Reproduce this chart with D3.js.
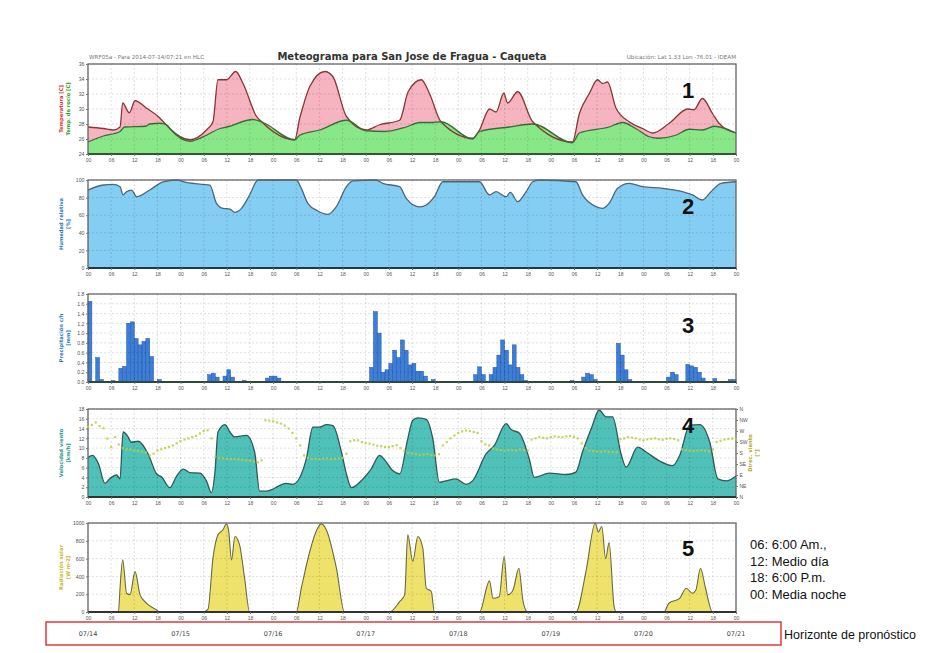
<!DOCTYPE html>
<html><head><meta charset="utf-8">
<script src="https://cdn.jsdelivr.net/npm/d3@7"></script>
<style>body{margin:0;background:#fff;} svg{display:block;font-family:"DejaVu Sans",sans-serif;}</style>
</head><body><svg id="c" width="938" height="653"></svg>
<script>
// ---------- DATA (hour since 07/14 00:00, value) ----------
const dateLabels = ["07/14","07/15","07/16","07/17","07/18","07/19","07/20","07/21"];
const hourLabels = ["00","06","12","18"];
const tempTicks = [24,26,28,30,32,34,36];
const humTicks = [0,20,40,60,80,100];
const precTicks = [0,0.2,0.4,0.6,0.8,1.0,1.2,1.4,1.6,1.8];
const windTicks = [0,2,4,6,8,10,12,14,16,18];
const dirTicks = [0,45,90,135,180,225,270,315,360];
const dirNames = ["N","NE","E","SE","S","SW","W","NW","N"];
const radTicks = [0,200,400,600,800,1000];

const temperatura = [[0,27.6],[4,27.4],[6.6,27.2],[8.3,27.6],[9,30.8],[10.7,29.5],[12.2,31.1],[15.2,30.1],[18.6,28.8],[19.9,28.1],[21.2,27.4],[26.4,25.9],[30.7,27.2],[32.4,28.3],[33.7,33.9],[35.9,33.9],[38.3,35.0],[40.2,33.4],[43.7,29.0],[45,28.3],[53.6,25.9],[54.9,28.8],[55.5,29.9],[57.5,33.0],[61.4,35.0],[63.5,34.3],[67,29.0],[72.1,27.2],[75.6,27.9],[80.8,28.5],[83,32.3],[86.4,33.9],[88.5,32.1],[91.5,28.3],[99.7,26.1],[101.5,27.2],[104.1,30.0],[105.8,29.6],[107.8,32.1],[108.8,30.8],[111.4,32.3],[115.3,28.3],[125.6,25.6],[127.4,29.4],[130,32.1],[132.1,33.9],[133.4,33.4],[134.7,33.6],[136.9,30.1],[140.3,28.3],[143.8,27.4],[146.4,26.8],[150.7,28.1],[155.5,30.0],[157.1,29.9],[159.3,31.4],[161.9,29.4],[163.6,28.1],[168,26.8]];
const rocio = [[0,25.6],[4,26.4],[6.6,26.7],[8.3,27.0],[9.5,27.6],[15,27.7],[16,28.0],[18.6,28.1],[20.4,27.9],[21.2,27.4],[26.4,25.7],[30.7,26.5],[34.2,27.4],[36,27.6],[42.8,28.6],[45,28.3],[53.6,25.9],[54.9,26.5],[60.1,27.2],[67,28.5],[72.1,27.1],[77,27.0],[82.5,27.6],[86,28.2],[89.3,28.2],[91.5,28.3],[99.7,26.0],[101.5,27.0],[109.2,27.6],[115.3,28.0],[125.6,25.5],[127.4,26.8],[135.1,27.6],[138.6,28.2],[142,27.4],[145.5,26.3],[148,26.1],[152.4,26.5],[155.9,27.3],[159.3,27.2],[162.4,27.7],[168,26.8]];
const humedad = [[0,88.6],[4,94.3],[6.5,95],[8.3,92.4],[9.1,83],[10,86.7],[11.3,88.6],[12.6,81],[16,88.6],[19.5,98],[23,100],[25.5,97.3],[29.8,95],[31.6,94.3],[33.3,73.5],[35,67.8],[36.8,67],[38,63.3],[39.8,67.8],[41.9,83],[44.1,100],[54,100],[55.3,90.5],[57,73.5],[59.6,64.8],[62.2,61],[64.4,69.7],[67,92.4],[68.7,98.9],[74.7,100],[76.4,96.2],[80.8,92.4],[82.5,79.2],[86,69.5],[87.7,71.6],[89.8,81],[92,98],[101.5,98],[104.1,83],[105.8,86.7],[108.4,81],[109.5,86],[111.4,75.4],[113.6,86.7],[115.3,98],[117,100],[126.5,98],[128.2,83],[131.7,69.7],[133.4,67.8],[135.1,73.5],[137.3,90.5],[140.3,96.2],[143.8,92.4],[149,90.5],[154.1,86.7],[156.7,83],[159.3,77.3],[161.5,86.7],[164.1,96.2],[168,98]];
const precipitacion = [[0,1.65],[2,0.5],[3,0.05],[6,0.03],[8,0.28],[9,0.32],[10,1.2],[11,1.23],[12,0.89],[13,0.76],[14,0.83],[15,0.89],[16,0.52],[18,0.05],[31,0.15],[32,0.18],[33,0.1],[35,0.12],[36,0.25],[37,0.1],[40,0.03],[46,0.08],[47,0.12],[48,0.12],[49,0.08],[73,0.3],[74,1.44],[75,1.0],[76,0.2],[77,0.25],[78,0.38],[79,0.65],[80,0.5],[81,0.86],[82,0.65],[83,0.35],[84,0.38],[85,0.22],[86,0.22],[87,0.12],[89,0.05],[100,0.15],[101,0.31],[102,0.15],[104,0.15],[105,0.3],[106,0.55],[107,0.86],[108,0.65],[109,0.35],[110,0.76],[111,0.3],[112,0.15],[113,0.03],[125,0.03],[128,0.1],[129,0.18],[130,0.15],[131,0.05],[137,0.79],[138,0.55],[139,0.25],[140,0.05],[150,0.1],[151,0.2],[152,0.15],[155,0.36],[156,0.33],[157,0.3],[158,0.2],[159,0.08],[162,0.07],[166,0.05],[167,0.05]];
const viento = [[0,8.1],[1.2,8.5],[2.7,6.8],[4.4,2.8],[5.7,3.8],[7.4,4.5],[8.3,3.7],[9.1,13.3],[10.4,12.3],[11.2,11.2],[13,11.4],[15.6,8.8],[17.8,4.7],[19.1,4.1],[21.2,1.9],[23,4.3],[24.7,5.7],[26.4,5.0],[29,4.9],[30.7,3.3],[32,0.9],[32.9,4.9],[33.7,13.3],[35.5,14.8],[36.8,13.3],[38,12.3],[41.1,12.6],[43.2,9.2],[44.5,1.2],[46.2,1.2],[51.4,2.8],[53.1,2.6],[56.6,7.8],[58.3,14.3],[60.1,14.3],[61.8,14.8],[63.5,14.6],[65.7,9.2],[67,4.7],[68.3,1.9],[71.3,3.7],[73.4,5.7],[75.6,8.5],[76.9,7.6],[79,5.4],[80.8,4.7],[82.9,11.9],[84.2,15.7],[85.5,16.2],[87.7,15.9],[89.4,11.9],[91.1,3.0],[92.8,3.3],[95.4,3.7],[98,2.6],[99.7,3.3],[103.2,8.8],[105.4,10.6],[108.4,15],[109.7,13.8],[111.8,13.1],[114.4,7.8],[115.7,4.0],[119.6,4.9],[124,4.6],[126.5,5.1],[128.2,9.2],[130.8,14.7],[132.5,17.8],[134.3,16.4],[136,16.4],[138.2,8.8],[139.5,6.1],[142.5,10.2],[144.7,9.2],[148.1,7.4],[151.6,6.4],[153.4,8.5],[156,14.7],[158.6,14.8],[161.2,11.2],[163.3,3.7],[165.5,3.3],[168,4.3]];
// hourly wind direction (degrees), hours 0..168
const direccion = [287,295,305,290,281,239,204,245,215,200,195,195,190,188,185,182,170,177,190,195,200,205,211,220,228,235,240,245,250,260,270,273,240,165,160,158,157,155,156,154,152,150,148,145,142,150,314,312,310,305,300,292,280,262,240,211,170,160,156,157,155,156,158,155,156,157,160,177,228,232,232,225,220,218,214,210,208,205,204,208,212,200,190,180,178,175,172,174,176,172,170,175,211,225,240,252,262,268,272,270,266,262,228,215,211,198,195,192,190,193,192,190,195,192,190,235,240,245,242,240,245,248,246,245,248,250,246,240,219,200,190,188,186,185,187,185,184,183,236,240,245,243,240,235,232,236,238,240,236,234,238,240,237,232,195,192,190,188,190,192,190,188,195,225,230,235,238,239,236];
const radiacion = [[0,0],[7.9,0],[8.3,267],[9,586],[10,211],[10.9,195],[12.2,454],[13.5,192],[15.2,98],[17.8,22],[18.6,0],[29.8,0],[31.1,30],[32.4,605],[33.7,868],[35,924],[35.9,990],[36.5,901],[37.2,586],[38.1,849],[39.3,755],[40.6,380],[41.9,0],[54,0],[55.3,267],[57.5,680],[59.3,921],[60.5,990],[61.8,921],[64.4,492],[66.5,0],[78.2,0],[80.8,117],[82.1,192],[82.9,868],[84.2,567],[85.5,849],[86.8,718],[87.7,267],[89,230],[89.8,0],[101.5,0],[104.1,350],[105,154],[106.6,172],[107.9,624],[108.8,192],[110.2,248],[111.7,492],[112.8,117],[114,0],[126.5,0],[129.1,454],[131.5,1000],[132.3,900],[133.2,960],[134.2,600],[135.1,780],[136.4,60],[137,0],[149.3,0],[150.6,98],[153.4,154],[155.1,267],[156.7,211],[157.6,248],[158.8,492],[160.1,267],[161.9,0],[168,0]];

// ---------- LAYOUT ----------
const svg = d3.select("#c");
svg.append("rect").attr("width",938).attr("height",653).attr("fill","#fff");
const x = d3.scaleLinear().domain([0,168]).range([88,736]);
const x0 = 88, x1 = 736;
const sixH = d3.range(0,169,6);
const curve = d3.curveMonotoneX;

function panel(top, bottom, domain, ticks, fmt, title, baseColor){
  const y = d3.scaleLinear().domain(domain).range([bottom, top]);
  const g = svg.append("g");
  g.append("rect").attr("x",x0).attr("y",top).attr("width",x1-x0).attr("height",bottom-top).attr("fill","#fff");
  const data = g.append("g");
  const grid = g.append("g");
  const over = g.append("g");
  grid.selectAll("line.h").data(ticks).join("line")
    .attr("x1",x0).attr("x2",x1).attr("y1",d=>y(d)).attr("y2",d=>y(d))
    .attr("stroke","rgba(0,0,0,0.18)").attr("stroke-dasharray","2,2").attr("stroke-width",0.7);
  grid.selectAll("line.v").data(sixH).join("line")
    .attr("x1",d=>x(d)).attr("x2",d=>x(d)).attr("y1",top).attr("y2",bottom)
    .attr("stroke","rgba(0,0,0,0.18)").attr("stroke-dasharray","2,2").attr("stroke-width",0.7);
  over.append("rect").attr("x",x0).attr("y",top).attr("width",x1-x0).attr("height",bottom-top)
    .attr("fill","none").attr("stroke","#666").attr("stroke-width",1.3);
  over.append("line").attr("x1",x0).attr("x2",x1).attr("y1",bottom).attr("y2",bottom)
    .attr("stroke",baseColor).attr("stroke-width",2.2);
  const ax = over.append("g").attr("transform",`translate(${x0},0)`)
    .call(d3.axisLeft(y).tickValues(ticks).tickFormat(fmt).tickSize(2).tickPadding(1.5));
  ax.select(".domain").remove();
  ax.selectAll("text").attr("font-size",5.2).attr("fill","#555");
  ax.selectAll("line").attr("stroke","#777");
  const bx = over.append("g").attr("transform",`translate(0,${bottom})`)
    .call(d3.axisBottom(x).tickValues(sixH).tickFormat(d=>hourLabels[(d%24)/6]).tickSize(2).tickPadding(2));
  bx.select(".domain").remove();
  bx.selectAll("text").attr("font-size",5).attr("fill","#555");
  bx.selectAll("line").attr("stroke","#777");
  const cy = (top+bottom)/2;
  title.forEach(t=>{
    over.append("text").attr("transform",`translate(${t.x},${cy}) rotate(-90)`)
      .attr("text-anchor","middle").attr("font-size",5.2).attr("font-weight","bold")
      .attr("fill",t.c).text(t.t);
  });
  return {y, data, over};
}

svg.append("text").attr("x",412).attr("y",60).attr("text-anchor","middle")
  .attr("font-size",10).attr("font-weight","bold").attr("fill","#333")
  .text("Meteograma para San Jose de Fragua - Caqueta");
svg.append("text").attr("x",89).attr("y",59).attr("font-size",5.6).attr("fill","#777")
  .text("WRF05a - Para 2014-07-14/07:21 en HLC");
svg.append("text").attr("x",736).attr("y",59).attr("text-anchor","end").attr("font-size",5.6).attr("fill","#777")
  .text("Ubicación: Lat 1.33 Lon -76.01 - IDEAM");

const lineGen = y => d3.line().x(d=>x(d[0])).y(d=>y(d[1])).curve(curve);
const areaGen = (y,b) => d3.area().x(d=>x(d[0])).y0(b).y1(d=>y(d[1])).curve(curve);

// Panel 1
const p1 = panel(64,154,[24,36],tempTicks,d=>d,
  [{x:63,t:"Temperatura [C]",c:"#d83030"},{x:70,t:"Temp. de rocío [C]",c:"#2a9a2a"}],"#2e5a2e");
p1.data.append("path").datum(temperatura).attr("d",areaGen(p1.y,154)).attr("fill","#f6b4c0");
p1.data.append("path").datum(rocio).attr("d",areaGen(p1.y,154)).attr("fill","#88e888");
p1.data.append("path").datum(temperatura).attr("d",lineGen(p1.y)).attr("fill","none").attr("stroke","#8a3636").attr("stroke-width",1.3);
p1.data.append("path").datum(rocio).attr("d",lineGen(p1.y)).attr("fill","none").attr("stroke","#3e6a3a").attr("stroke-width",1.3);

// Panel 2
const p2 = panel(180,268,[0,100],humTicks,d=>d,
  [{x:63,t:"Humedad relativa",c:"#2a78b8"},{x:70,t:"[%]",c:"#2a78b8"}],"#1d3a4d");
p2.data.append("path").datum(humedad).attr("d",areaGen(p2.y,268)).attr("fill","#84cdf3");
p2.data.append("path").datum(humedad).attr("d",lineGen(p2.y)).attr("fill","none").attr("stroke","#4c6878").attr("stroke-width",1.3);

// Panel 3
const p3 = panel(294,382,[0,1.8],precTicks,d3.format(".1f"),
  [{x:63,t:"Precipitación c/h",c:"#2a78b8"},{x:70,t:"[mm]",c:"#2a78b8"}],"#2b4a3a");
p3.data.selectAll("rect").data(precipitacion).join("rect")
  .attr("x",d=>x(d[0])).attr("width",d=>x(d[0]+1)-x(d[0]))
  .attr("y",d=>p3.y(d[1])).attr("height",d=>382-p3.y(d[1]))
  .attr("fill","#3d7fd8").attr("stroke","#2456a8").attr("stroke-width",0.5);

// Panel 4
const p4 = panel(409,497,[0,18],windTicks,d=>d,
  [{x:63,t:"Velocidad viento",c:"#2a948e"},{x:70,t:"[km/h]",c:"#2a948e"}],"#333");
p4.data.append("path").datum(viento).attr("d",areaGen(p4.y,497)).attr("fill","#4fc1b8");
p4.data.append("path").datum(viento).attr("d",lineGen(p4.y)).attr("fill","none").attr("stroke","#2f5a5a").attr("stroke-width",1.3);
const yDir = d3.scaleLinear().domain([0,360]).range([497,409]);
p4.over.selectAll("rect.dir").data(direccion.map((d,i)=>[i,d])).join("rect").attr("class","dir")
  .attr("x",d=>x(d[0])-1.1).attr("y",d=>yDir(d[1])-1.1).attr("width",2.2).attr("height",2.2)
  .attr("fill","#bccd42").attr("opacity",0.85);
const rx = p4.over.append("g").attr("transform",`translate(${x1},0)`)
  .call(d3.axisRight(yDir).tickValues(dirTicks).tickFormat((d,i)=>dirNames[i]).tickSize(2).tickPadding(1.5));
rx.select(".domain").remove();
rx.selectAll("text").attr("font-size",5).attr("fill","#555");
rx.selectAll("line").attr("stroke","#777");
[{x:752,t:"Direc. viento"},{x:759,t:"[°]"}].forEach(t=>{
  p4.over.append("text").attr("transform",`translate(${t.x},453) rotate(-90)`)
    .attr("text-anchor","middle").attr("font-size",5.2).attr("font-weight","bold").attr("fill","#b0a52a").text(t.t);
});

// Panel 5
const p5 = panel(523,612,[0,1000],radTicks,d=>d,
  [{x:63,t:"Radiación solar",c:"#c8b830"},{x:70,t:"[W m-2]",c:"#c8b830"}],"#333");
p5.data.append("path").datum(radiacion).attr("d",areaGen(p5.y,612)).attr("fill","#eee26a");
p5.data.append("path").datum(radiacion).attr("d",lineGen(p5.y)).attr("fill","none").attr("stroke","#6a6a48").attr("stroke-width",1.1);

// dates & red box
svg.append("rect").attr("x",46).attr("y",622).attr("width",735).attr("height",23)
  .attr("fill","none").attr("stroke","#e03a3a").attr("stroke-width",1.5);
svg.selectAll("text.date").data(dateLabels).join("text").attr("class","date")
  .attr("x",(d,i)=>x(i*24)).attr("y",636).attr("text-anchor","middle")
  .attr("font-size",6.5).attr("fill","#444").text(d=>d);

// panel numbers
const nums = [["1",98],["2",214],["3",333],["4",433],["5",556]];
svg.selectAll("text.num").data(nums).join("text").attr("class","num")
  .attr("x",688).attr("y",d=>d[1]).attr("text-anchor","middle")
  .attr("font-family","Liberation Sans, Arial, sans-serif").attr("font-weight","bold").attr("font-size",22)
  .attr("fill","#111").text(d=>d[0]);

// right legend
const legend = ["06: 6:00 Am.,","12: Medio día","18: 6:00 P.m.","00: Media noche"];
svg.selectAll("text.leg").data(legend).join("text").attr("class","leg")
  .attr("x",750).attr("y",(d,i)=>549+i*16.7)
  .attr("font-family","Liberation Sans, Arial, sans-serif").attr("font-size",13).attr("fill","#111").text(d=>d);
svg.append("text").attr("x",784).attr("y",639)
  .attr("font-family","Liberation Sans, Arial, sans-serif").attr("font-size",12.5).attr("fill","#111")
  .text("Horizonte de pronóstico");
</script></body></html>
